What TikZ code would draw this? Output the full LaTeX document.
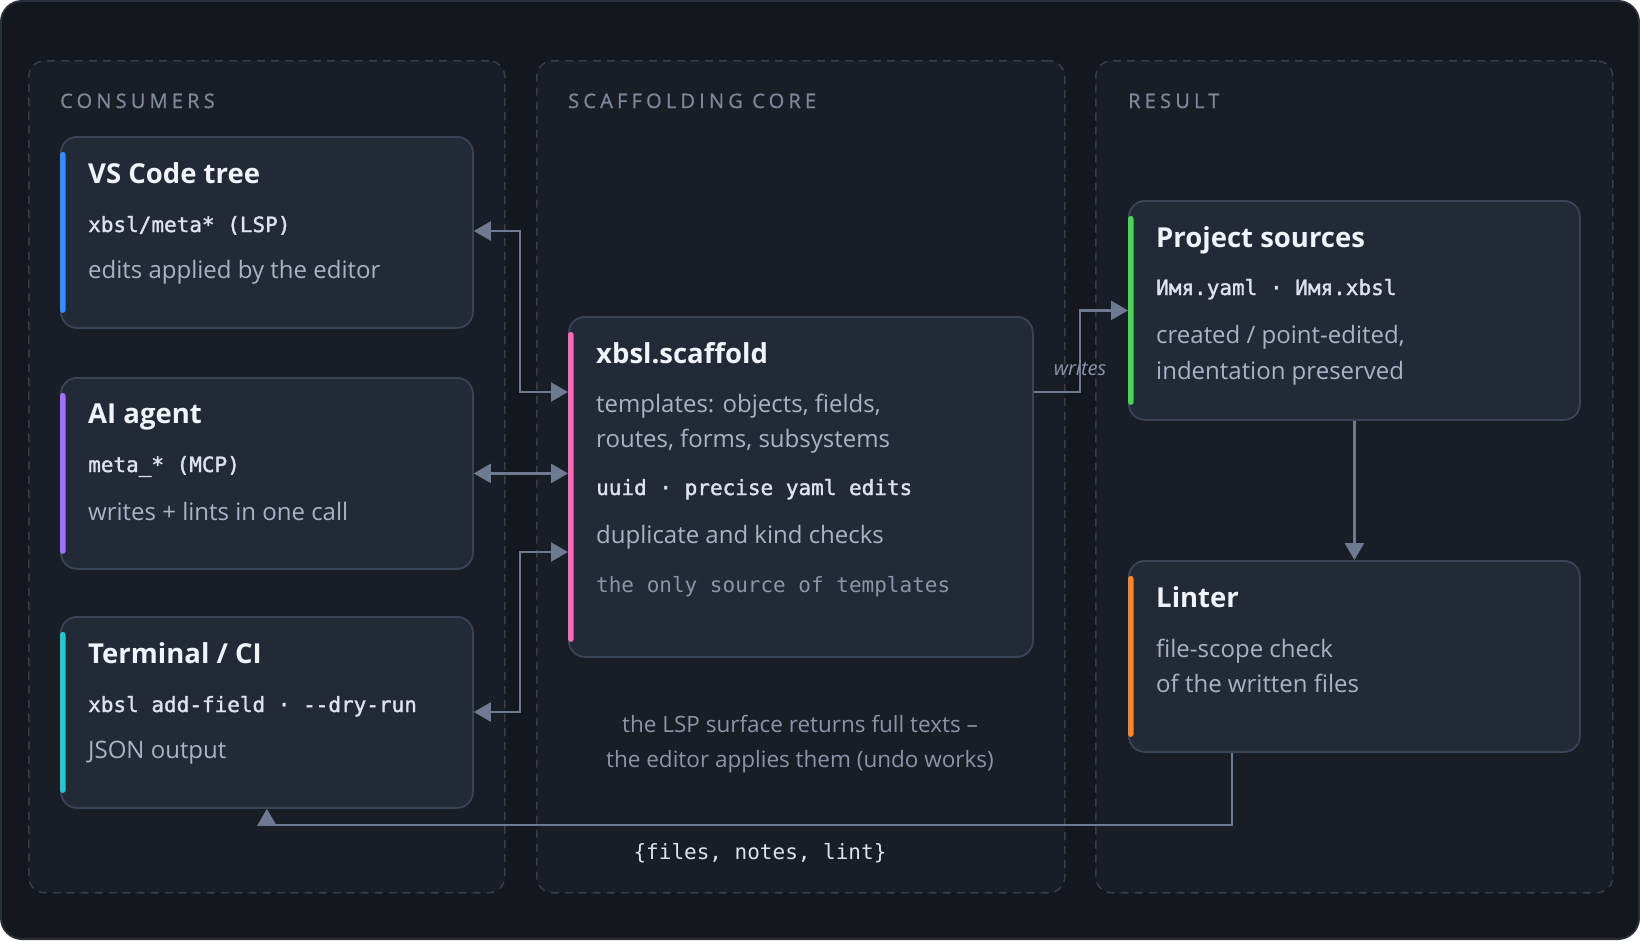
\documentclass[tikz,border=0pt]{standalone}
\usepackage{fontspec}
\setmainfont{Open Sans}
\setmonofont{DejaVu Sans Mono}
\newfontfamily\codefont{DejaVu Sans Mono}[FakeBold=1.6]
\newfontfamily\headfont{Open Sans}[FakeBold=0.8, LetterSpace=21]
\usetikzlibrary{arrows.meta,calc}
\definecolor{bgouter}{HTML}{14171E}
\definecolor{outerborder}{HTML}{2A303B}
\definecolor{colbg}{HTML}{191D26}
\definecolor{colborder}{HTML}{363D4B}
\definecolor{nodefill}{HTML}{232A37}
\definecolor{nodeborder}{HTML}{3A4457}
\definecolor{titlec}{HTML}{F0F3F8}
\definecolor{codec}{HTML}{DCE3EE}
\definecolor{bodyc}{HTML}{A8B3C5}
\definecolor{mutedc}{HTML}{8A95A8}
\definecolor{headc}{HTML}{7D889B}
\definecolor{arrowc}{HTML}{6E7A91}
\definecolor{acblue}{HTML}{388BFD}
\definecolor{acpurple}{HTML}{A371F7}
\definecolor{accyan}{HTML}{2EC4CF}
\definecolor{acpink}{HTML}{F06EB8}
\definecolor{acgreen}{HTML}{4FCF5E}
\definecolor{acorange}{HTML}{EE8838}
\tikzset{
  column/.style={draw=colborder, line width=1.5pt, dash pattern=on 8pt off 6pt, fill=colbg, rounded corners=16pt, anchor=north west, inner sep=0pt},
  card/.style={draw=nodeborder, line width=1.8pt, fill=nodefill, rounded corners=16pt, anchor=north west, inner sep=0pt},
  head/.style={anchor=base west, inner sep=0pt, text=headc, font=\fontsize{20}{24}\headfont},
  ttl/.style={anchor=base west, inner sep=0pt, text=titlec, font=\fontsize{27.5}{32}\selectfont\bfseries},
  code/.style={anchor=base west, inner sep=0pt, text=codec, font=\fontsize{21}{24}\codefont},
  body/.style={anchor=base west, inner sep=0pt, text=bodyc, font=\fontsize{24}{28}\selectfont},
  mutedcode/.style={anchor=base west, inner sep=0pt, text=mutedc, font=\fontsize{21}{24}\selectfont\ttfamily},
  note/.style={anchor=base, inner sep=0pt, text=mutedc, font=\fontsize{22.5}{26}\selectfont},
  conn/.style={draw=arrowc, line width=2.4pt},
  tip/.style={-{Triangle[length=17pt,width=19pt]}},
  biTip/.style={{Triangle[length=17pt,width=19pt]}-{Triangle[length=17pt,width=19pt]}},
}
\begin{document}
\begin{tikzpicture}[x=1pt,y=-1pt]
\useasboundingbox (0,0) rectangle (1640,940);
\fill[outerborder] (0,0) [rounded corners=22pt] rectangle (1640,940);
\fill[bgouter] (2,2) [rounded corners=20pt] rectangle (1638,938);

% columns
\node[column, minimum width=476pt, minimum height=832pt] (colA) at (28,60) {};
\node[column, minimum width=528pt, minimum height=832pt] (colB) at (536,60) {};
\node[column, minimum width=517pt, minimum height=832pt] (colC) at (1095,60) {};
\node[head] (hA) at (60,108) {CONSUMERS};
\node[head] (hB) at (568,108) {SCAFFOLDING CORE};
\node[head] (hC) at (1128,108) {RESULT};

% cards
\node[card, minimum width=412pt, minimum height=191pt] (vscode) at (60,136) {};
\node[card, minimum width=412pt, minimum height=191pt] (agent) at (60,377) {};
\node[card, minimum width=412pt, minimum height=191pt] (term) at (60,616) {};
\node[card, minimum width=464pt, minimum height=340pt] (scaffold) at (568,316) {};
\node[card, minimum width=451pt, minimum height=219pt] (project) at (1128,200) {};
\node[card, minimum width=451pt, minimum height=191pt] (linter) at (1128,560) {};

% accent bars
\fill[acblue, rounded corners=2.5pt] ($(vscode.north west)+(0,16)$) rectangle ($(vscode.south west)+(5.5,-16)$);
\fill[acpurple, rounded corners=2.5pt] ($(agent.north west)+(0,16)$) rectangle ($(agent.south west)+(5.5,-16)$);
\fill[accyan, rounded corners=2.5pt] ($(term.north west)+(0,16)$) rectangle ($(term.south west)+(5.5,-16)$);
\fill[acpink, rounded corners=2.5pt] ($(scaffold.north west)+(0,16)$) rectangle ($(scaffold.south west)+(5.5,-16)$);
\fill[acgreen, rounded corners=2.5pt] ($(project.north west)+(0,16)$) rectangle ($(project.south west)+(5.5,-16)$);
\fill[acorange, rounded corners=2.5pt] ($(linter.north west)+(0,16)$) rectangle ($(linter.south west)+(5.5,-16)$);

% texts
\node[ttl] (vsT) at (88,183) {VS Code tree};
\node[code] (vsC) at (88,232) {xbsl/meta* (LSP)};
\node[body] (vsB) at (88,278) {edits applied by the editor};

\node[ttl] (agT) at (88,423) {AI agent};
\node[code] (agC) at (88,472) {meta\_* (MCP)};
\node[body] (agB) at (88,520) {writes + lints in one call};

\node[ttl] (tmT) at (88,663) {Terminal / CI};
\node[code] (tmC) at (88,712) {xbsl add-field · --dry-run};
\node[body] (tmB) at (88,758) {JSON output};

\node[ttl] (scT) at (596,363) {xbsl.scaffold};
\node[body] (scB1) at (596,412) {templates: objects, fields,};
\node[body] (scB2) at (596,447) {routes, forms, subsystems};
\node[code] (scC) at (596,495) {uuid · precise yaml edits};
\node[body] (scB3) at (596,543) {duplicate and kind checks};
\node[mutedcode] (scM) at (596,592) {the only source of templates};

\node[ttl] (prT) at (1156,247) {Project sources};
\node[code] (prC) at (1156,295) {Имя.yaml · Имя.xbsl};
\node[body] (prB1) at (1156,343) {created / point-edited,};
\node[body] (prB2) at (1156,379) {indentation preserved};

\node[ttl] (lnT) at (1156,607) {Linter};
\node[body] (lnB1) at (1156,657) {file-scope check};
\node[body] (lnB2) at (1156,692) {of the written files};

\node[note] (note1) at (800,732) {the LSP surface returns full texts –};
\node[note] (note2) at (800,767) {the editor applies them (undo works)};

% connectors
\draw[conn, biTip] ($(vscode.north east)+(0,95)$) -| ($(scaffold.north west)+(-48,76)$) -- ($(scaffold.north west)+(0,76)$);
\draw[conn, biTip] (agent.east) -- (agent.east -| scaffold.west);
\draw[conn, biTip] ($(term.north east)+(0,96)$) -| ($(scaffold.north west)+(-48,236)$) -- ($(scaffold.north west)+(0,236)$);
\draw[conn, tip] ($(scaffold.north east)+(0,76)$) -| ($(project.west)+(-48,0)$) -- (project.west);
\node[anchor=base, inner sep=0pt, text=mutedc, font=\fontsize{20}{24}\selectfont\itshape] (writesL) at (1080,375) {writes};
\draw[conn, tip] (project.south) -- (linter.north);
\draw[conn, tip] ($(linter.south west)+(104,0)$) |- ($(term.south)+(0,16)$) -- (term.south);
\node[anchor=base, inner sep=0pt, text=codec, font=\fontsize{21}{24}\selectfont\ttfamily] (retL) at (760,859) {\{files, notes, lint\}};
\end{tikzpicture}
\end{document}
